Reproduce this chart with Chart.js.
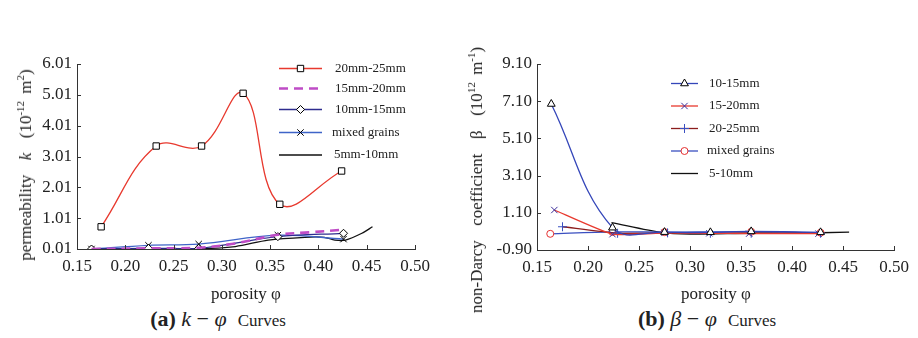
<!DOCTYPE html>
<html>
<head>
<meta charset="utf-8">
<script src="https://cdn.jsdelivr.net/npm/chart.js@4.4.1/dist/chart.umd.min.js"></script>
<style>
  body { margin: 0; background: #fff; }
  #wrap { position: relative; width: 918px; height: 338px; overflow: hidden; font-family: "Liberation Serif", "DejaVu Serif", serif; color: #222; }
  canvas { position: absolute; top: 0; }
  #kChart { left: 0; }
  #bChart { left: 460px; }
  .ytitle { position: absolute; white-space: nowrap; font-size: 17px; word-spacing: 3px; transform: translate(-50%, -50%) rotate(-90deg); }
  .xtitle { position: absolute; white-space: nowrap; font-size: 17px; transform: translate(-50%, -50%); }
  .caption { position: absolute; white-space: nowrap; font-size: 22px; transform: translate(-50%, -50%); }
  .caption .cw { font-size: 17px; }
  sup { font-size: 11px; vertical-align: 7px; line-height: 0; }
</style>
</head>
<body>
<div id="wrap">
  <canvas id="kChart" width="460" height="290"></canvas>
  <canvas id="bChart" width="458" height="290"></canvas>
  <div class="ytitle" style="left:26px; top:165px;">permeability &nbsp;<i>k</i>&nbsp; (10<sup>-12</sup> m<sup>2</sup>)</div>
  <div class="ytitle" style="left:477px; top:180px;">non-Darcy &nbsp;coefficient &nbsp;β &nbsp;(10<sup>12</sup> m<sup>-1</sup>)</div>
  <div class="xtitle" style="left:246px; top:294px;">porosity φ</div>
  <div class="xtitle" style="left:716px; top:294px;">porosity φ</div>
  <div class="caption" style="left:218px; top:319px;"><b>(a)</b> <i>k</i> − <i>φ</i> &nbsp;<span class="cw">Curves</span></div>
  <div class="caption" style="left:707px; top:319px;"><b>(b)</b> <i>β</i> − <i>φ</i> &nbsp;<span class="cw">Curves</span></div>
</div>
<script>
// tick values
const porosityTicks = [0.15, 0.20, 0.25, 0.30, 0.35, 0.40, 0.45, 0.50];
const kTicks = [0.01, 1.01, 2.01, 3.01, 4.01, 5.01, 6.01];
const betaTicks = [-0.90, 1.10, 3.10, 5.10, 7.10, 9.10];

// (a) permeability k vs porosity
const kLabels = ['20mm-25mm', '15mm-20mm', '10mm-15mm', 'mixed grains', '5mm-10mm'];
const phiK20_25 = [0.175, 0.232, 0.279, 0.322, 0.360, 0.424];
const k20_25 = [0.73, 3.35, 3.35, 5.06, 1.46, 2.54];
const phiK15_20 = [0.165, 0.224, 0.276, 0.310, 0.358, 0.390, 0.424];
const k15_20 = [0.01, 0.03, 0.05, 0.17, 0.47, 0.55, 0.63];
const phiK10_15 = [0.165, 0.224, 0.276, 0.358, 0.426];
const k10_15 = [0.01, 0.03, 0.03, 0.41, 0.52];
const phiKMixed = [0.165, 0.224, 0.276, 0.358, 0.426];
const kMixed = [0.01, 0.13, 0.17, 0.46, 0.33];
const phiK5_10 = [0.165, 0.276, 0.314, 0.348, 0.386, 0.406, 0.417, 0.428, 0.445, 0.456];
const k5_10 = [0.01, 0.02, 0.09, 0.30, 0.39, 0.39, 0.30, 0.30, 0.52, 0.73];

// (b) non-Darcy coefficient beta vs porosity
const bLabels = ['10-15mm', '15-20mm', '20-25mm', 'mixed grains', '5-10mm'];
const phiB10_15 = [0.164, 0.224, 0.275, 0.320, 0.360, 0.428];
const b10_15 = [6.95, 0.30, 0.06, 0.05, 0.10, 0.05];
const phiB15_20 = [0.167, 0.224, 0.275, 0.319, 0.358, 0.426];
const b15_20 = [1.25, -0.05, 0.02, 0.00, -0.02, -0.02];
const phiB20_25 = [0.175, 0.229, 0.278, 0.320, 0.360, 0.428];
const b20_25 = [0.35, 0.00, 0.02, 0.00, 0.00, 0.00];
const phiBMixed = [0.163, 0.224, 0.275, 0.360, 0.428];
const bMixed = [-0.03, 0.07, 0.06, 0.08, 0.03];
const phiB5_10 = [0.223, 0.273, 0.300, 0.360, 0.400, 0.456];
const b5_10 = [0.57, 0.03, -0.04, 0.00, 0.00, 0.06];

function pts(xs, ys) {
    return xs.map((x, i) => ({x: x, y: ys[i]}));
}

// little ticks drawn inside the plot, like the original figure
const inwardTicks = {
    id: 'inwardTicks',
    afterDraw(chart) {
        const ctx = chart.ctx, a = chart.chartArea, x = chart.scales.x, y = chart.scales.y;
        ctx.save();
        ctx.strokeStyle = '#333';
        ctx.lineWidth = 1;
        ctx.beginPath();
        x.ticks.forEach(t => {
            const px = Math.round(x.getPixelForValue(t.value)) + 0.5;
            ctx.moveTo(px, a.bottom);
            ctx.lineTo(px, a.bottom - 4);
        });
        y.ticks.forEach(t => {
            const py = Math.round(y.getPixelForValue(t.value)) + 0.5;
            ctx.moveTo(a.left, py);
            ctx.lineTo(a.left + 4, py);
        });
        ctx.stroke();
        ctx.restore();
    }
};

// legend box placed inside the plot
const boxLegend = {
    id: 'boxLegend',
    afterDraw(chart, args, opts) {
        const ctx = chart.ctx;
        ctx.save();
        chart.data.datasets.forEach((ds, i) => {
            const y = opts.rows[i];
            ctx.strokeStyle = ds.borderColor;
            ctx.lineWidth = ds.borderWidth;
            ctx.setLineDash(ds.borderDash || []);
            ctx.beginPath();
            ctx.moveTo(opts.x0, y);
            ctx.lineTo(opts.x1, y);
            ctx.stroke();
            ctx.setLineDash([]);
            if (ds.pointRadius > 0 && Chart.helpers && Chart.helpers.drawPoint) {
                ctx.strokeStyle = ds.pointBorderColor;
                ctx.fillStyle = ds.pointBackgroundColor;
                ctx.lineWidth = ds.pointBorderWidth;
                Chart.helpers.drawPoint(ctx, {
                    pointStyle: ds.pointStyle, radius: ds.pointRadius,
                    rotation: 0, borderWidth: ds.pointBorderWidth
                }, (opts.x0 + opts.x1) / 2, y);
            }
            ctx.fillStyle = '#222';
            ctx.font = opts.font;
            ctx.textBaseline = 'middle';
            ctx.textAlign = 'left';
            ctx.fillText(ds.label, opts.tx[i], y);
        });
        ctx.restore();
    }
};

const tickFont = {family: '"Liberation Serif", serif', size: 17};

function makeScales(yTicks, yMin, yMax, xH) {
    return {
        x: {
            type: 'linear', min: 0.15, max: 0.50,
            grid: {display: false, drawTicks: false},
            border: {display: true, color: '#333', width: 1},
            afterBuildTicks: s => { s.ticks = porosityTicks.map(v => ({value: v})); },
            afterFit: s => { s.height = xH; },
            ticks: {font: tickFont, color: '#222', padding: 7, maxRotation: 0, autoSkip: false,
                callback: v => v.toFixed(2)}
        },
        y: {
            type: 'linear', min: yMin, max: yMax,
            grid: {display: false, drawTicks: false},
            border: {display: true, color: '#333', width: 1},
            afterBuildTicks: s => { s.ticks = yTicks.map(v => ({value: v})); },
            afterFit: s => { s.width = 77; },
            ticks: {font: tickFont, color: '#222', padding: 5, autoSkip: false,
                callback: v => v.toFixed(2)}
        }
    };
}

function line(label, xs, ys, color, extra) {
    return Object.assign({
        label: label,
        data: pts(xs, ys),
        borderColor: color,
        backgroundColor: color,
        borderWidth: 1.3,
        pointRadius: 0,
        pointBorderWidth: 1,
        pointBorderColor: '#000',
        pointBackgroundColor: '#fff',
        tension: 0.35,
        fill: false
    }, extra || {});
}

new Chart(document.getElementById('kChart'), {
    type: 'line',
    data: {
        datasets: [
            line(kLabels[0], phiK20_25, k20_25, '#e8392e', {pointRadius: 4.5, pointStyle: 'rect', tension: 0.4}),
            line(kLabels[1], phiK15_20, k15_20, '#bf4cc6', {borderWidth: 2.6, borderDash: [9, 6]}),
            line(kLabels[2], phiK10_15, k10_15, '#2e2c8e', {pointRadius: 4, pointStyle: 'rectRot'}),
            line(kLabels[3], phiKMixed, kMixed, '#3f64c8', {pointRadius: 4.5, pointStyle: 'crossRot'}),
            line(kLabels[4], phiK5_10, k5_10, '#111111', {tension: 0.3})
        ]
    },
    options: {
        responsive: false,
        animation: false,
        devicePixelRatio: 1,
        layout: {padding: {top: 64, right: 45, left: 0, bottom: 0}},
        scales: makeScales(kTicks, 0.01, 6.01, 41),
        plugins: {
            legend: {display: false},
            tooltip: {enabled: false},
            boxLegend: {x0: 279, x1: 322, tx: [335, 335, 335, 332, 334],
                rows: [68.5, 88.5, 109.5, 132.5, 155], font: '13px "Liberation Serif", serif'}
        }
    },
    plugins: [inwardTicks, boxLegend]
});

new Chart(document.getElementById('bChart'), {
    type: 'line',
    data: {
        datasets: [
            line(bLabels[0], phiB10_15, b10_15, '#3446b9', {pointRadius: 4.5, pointStyle: 'triangle', tension: 0.4}),
            line(bLabels[1], phiB15_20, b15_20, '#e8392e', {pointRadius: 4.5, pointStyle: 'crossRot', pointBorderColor: '#3a2f9c', tension: 0.15}),
            line(bLabels[2], phiB20_25, b20_25, '#8b1d1d', {pointRadius: 4.5, pointStyle: 'cross', pointBorderColor: '#3a50c2', tension: 0.2}),
            line(bLabels[3], phiBMixed, bMixed, '#3a4fc0', {pointRadius: 3.5, pointStyle: 'circle', pointBorderColor: '#e53030', tension: 0.3}),
            line(bLabels[4], phiB5_10, b5_10, '#111111', {tension: 0.3})
        ]
    },
    options: {
        responsive: false,
        animation: false,
        devicePixelRatio: 1,
        layout: {padding: {top: 64, right: 24, left: 0, bottom: 0}},
        scales: makeScales(betaTicks, -0.90, 9.10, 40),
        plugins: {
            legend: {display: false},
            tooltip: {enabled: false},
            boxLegend: {x0: 211, x1: 238, tx: [249, 249, 249, 247, 249],
                rows: [83.5, 106, 128.5, 151, 173.5], font: '13px "Liberation Serif", serif'}
        }
    },
    plugins: [inwardTicks, boxLegend]
});
</script>
</body>
</html>
